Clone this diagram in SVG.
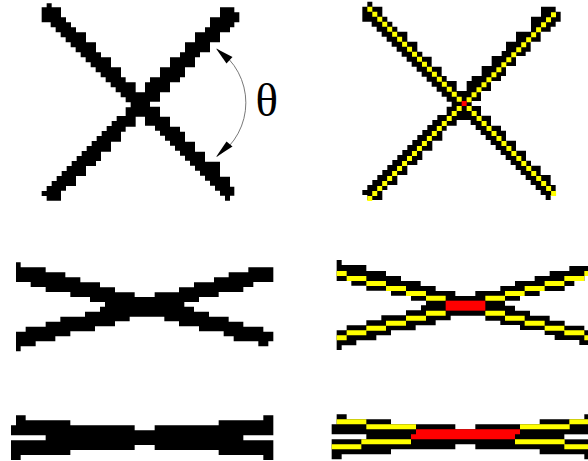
<svg xmlns="http://www.w3.org/2000/svg" width="588" height="461" viewBox="0 0 588 461">
<style>
.k{fill:#000}.y{fill:#ff0}.r{fill:#f00}
.arc{fill:none;stroke:#555;stroke-width:.8}
.t{font-family:"Liberation Serif",serif;font-size:47px;fill:#000}
</style>
<rect width="588" height="461" fill="#fff"/>
<g id="cross-90" transform="scale(.33333)">
<path class="k" d="M140 10H155V22H183V52H198V67H213V82H228V97H258V127H288V157H303V172H333V202H363V232H377V247H407V277H435V247H450V232H480V202H510V172H540V157H555V127H585V97H615V82H630V52H660V22H703V37H718V67H703V82H690V97H660V127H630V157H600V172H585V202H555V232H540V247H510V277H480V305H450V320H480V350H510V380H540V395H555V425H585V455H615V485H660V530H690V560H703V587H690V602H675V587H660V572h-15v-15h-15v-15h-15v-15h-15v-15h-15v-15h-15v-15h-15v-15h-15v-15h-15v-15h-15v-15h-15v-15h-15v-15h-15v-15H435V350H407V380H377V395H363V425H333V455H303V483H288V498H258V528H228V558H198V572H183V602H140V588H125V573H140V558h15v-15h15v-15h15v-15h15v-15h15v-15h15v-15h15v-15h15v-15h15v-15h15v-15h15v-15h15v-15h15v-15h15v-15H377V322H392V307H377V292h-15v-15h-15v-15h-15v-15h-15v-15h-15v-15h-15v-15h-15v-15h-15v-15h-15v-15h-15v-15h-15v-15h-15v-15h-15v-15h-15v-15h-15v-15H125V22H140Z"/>
</g>
<g id="angle">
<path class="arc" d="M217 49A64.500 64.500 0 0 1 217 156.500"/>
<polygon class="k" points="216,48.500 232.500,57 226.500,63.500"/>
<polygon class="k" points="216,157 232.500,146.500 226.500,141.500"/>
<text class="t" x="255.500" y="116">θ</text>
</g>
<g id="cross-90-skeleton" transform="translate(340 0) scale(.33333)">
<path class="k" d="M82 5H97V20H127V50H142V65H157V80H172V95H202V125H232V155H247V170H275V200H305V228H320V243H350V273H380V243H395V228H425V198H455V168H485V153H498V125H528V95H573V50H603V20H647V35H662V65H647V80H632V95H602V125H572V155H557V168H528V198H498V228H483V243H453V273H423V303H395V318H423V347H453V377H483V392H498V422H528V452H558V482H573V497H602V525H632V555H647V585H632V600H617V585H602V570h-15v-15h-15v-15h-15v-15h-15v-15h-15v-15h-15v-15h-15v-15h-15v-15h-15v-15h-15v-15h-15v-15h-15v-15h-15v-15h-15v-15H350V377H320V392H307V422H277V452H247V480H232V495H202V525H172V555H142V570H127V600H82V585H67V570H82V555h15v-15h15v-15h15v-15h15v-15h15v-15h15v-15h15v-15h15v-15h15v-15h15v-15h15v-15h15v-15h15v-15h15v-15H320V320H335V305H320V290h-15v-15h-15v-15h-15v-15h-15v-15h-15v-15h-15v-15h-15v-15h-15v-15h-15v-15h-15v-15h-15v-15h-15v-15h-15v-15h-15v-15h-15v-15H67V20H82Z"/>
<path class="y" d="M82 20h15v15h-15zm14.900 15h15v15h-15zm14.900 15h15v15h-15zm14.900 15h15v15h-15zm14.900 15h15v15h-15zm14.900 15h15v15h-15zm14.900 15h15v15h-15zm14.900 15h15v15h-15zm14.900 15h15v15h-15zm14.900 15h15v15h-15zm14.900 15h15v15h-15zm14.900 15h15v15h-15zm14.900 15h15v15h-15zm14.900 15h15v15h-15zm14.900 15h15v15h-15zm14.900 15h15v15h-15zm14.900 15h15v15h-15zm14.900 15h15v15h-15zm14.900 15h15v15h-15z"/>
<path class="y" d="M380 318h15v15h-15zm14.900 15h15v15h-15zm14.900 15h15v15h-15zm14.900 15h15v15h-15zm14.900 15h15v15h-15zm14.900 15h15v15h-15zm14.900 15h15v15h-15zm14.900 15h15v15h-15zm14.900 15h15v15h-15zm14.900 15h15v15h-15zm14.900 15h15v15h-15zm14.900 15h15v15h-15zm14.900 15h15v15h-15zm14.900 15h15v15h-15zm14.900 15h15v15h-15zm14.900 15h15v15h-15zm14.900 15h15v15h-15zm14.900 15h15v15h-15z"/>
<path class="y" d="M633 37h15v15h-15zm-14.900 15h15v15h-15zm-14.900 15h15v15h-15zm-14.900 15h15v15h-15zm-14.900 15h15v15h-15zm-14.900 15h15v15h-15zm-14.900 15h15v15h-15zm-14.900 15h15v15h-15zm-14.900 15h15v15h-15zm-14.900 15h15v15h-15zm-14.900 15h15v15h-15zm-14.900 15h15v15h-15zm-14.900 15h15v15h-15zm-14.900 15h15v15h-15zm-14.900 15h15v15h-15zm-14.900 15h15v15h-15zm-14.900 15h15v15h-15zm-14.900 15h15v15h-15z"/>
<path class="y" d="M350 318h15v15h-15zm-14.900 15h15v15h-15zm-14.900 15h15v15h-15zm-14.900 15h15v15h-15zm-14.900 15h15v15h-15zm-14.900 15h15v15h-15zm-14.900 15h15v15h-15zm-14.900 15h15v15h-15zm-14.900 15h15v15h-15zm-14.900 15h15v15h-15zm-14.900 15h15v15h-15zm-14.900 15h15v15h-15zm-14.900 15h15v15h-15zm-14.900 15h15v15h-15zm-14.900 15h15v15h-15zm-14.900 15h15v15h-15zm-14.900 15h15v15h-15zm-14.900 15h15v15h-15zm-14.900 15h15v15h-15z"/>
<rect class="r" x="365" y="303" width="15" height="15"/>
</g>
<g id="cross-shallow" transform="translate(0 250) scale(.33333)">
<path class="k" d="M48 37H62V52H137V67H196V82H241V97H300V112H345V127H404V141H464V127H537V112H582V97H642V82H686V67H745V52H820V96H760V111H730V126H656V141H597V156H553V170H582V185H627V200H686V215H730V230H790V245H820V274H805V289H775V274H701V259H671V244H597V229H537V214H493V200H389V214H345V229H285V244H211V259H166V274H107V289H62V304H48V245H77V230H137V215H181V200H255V185H300V170H315V156H270V141H211V126H137V111H92V96H48Z"/>
</g>
<g id="cross-shallow-skeleton" transform="translate(320 250) scale(.33333)">
<path class="k" d="M50 30H65V45H139V63H198V78H243V93H302V108H347V123H406V138H466V123H541V108H585V93H644V78H689V63H748V48H804V78H793V93H763V108H734V123H659V138H600V152H555V167H585V182H630V197H689V212H734V227H793V241H804V285H778V270H704V255H674V240H600V225H541V212H496V197H392V211H347V226H287V241H213V256H169V271H109V286H65V300H50V241H80V226H139V211H184V196H258V181H303V166H318V152H273V137H213V122H139V107H94V93H50Z"/>
<path class="y" d="M50 63h30v15h-30zM80 78h59v15h-59zM139 93h59v15h-59zM198 108h60v15h-60zM258 123h60v15h-60zM318 137h59v15h-59zM496 137h59v15h-59zM555 123h59v15h-59zM614 108h60v15h-60zM674 93h59v15h-59zM733 78h60v15h-60zM793 63h11v15h-11zM318 182h59v15h-59zM258 197h60v15h-60zM198 212h60v15h-60zM139 227h59v15h-59zM80 241h59v15h-59zM50 256h30v15h-30zM496 182h59v15h-59zM555 197h59v15h-59zM614 212h60v15h-60zM674 227h59v15h-59zM733 241h60v15h-60zM793 256h11v15h-11z"/>
<rect class="r" x="377" y="152" width="119" height="30"/>
</g>
<g id="cross-flat" transform="translate(0 250) scale(.33333)">
<path class="k" d="M48 496H77V511H211V526H404V541H464V526H656V511H790V496H820V556H730V571H820V630H790V615H656V600H464V585H404V600H211V615H62V630H33V571H137V556H33V526H48Z"/>
</g>
<g id="cross-flat-skeleton" transform="translate(320 250) scale(.33333)">
<path class="k" d="M50 493H80V508H213V523H406V538H466V523H659V508H793V493H804V628H793V613H659V598H466V583H406V598H213V613H65V628H35V568H139V553H35V523H50Z"/>
<rect x="733" y="553" width="71" height="15" fill="#fff"/>
<path class="y" d="M50 508h89v15h-89zM139 523h149v15h-149zM600 523h149v15h-149zM748 508h56v15h-56zM124 568h149v15h-149zM35 583h89v15h-89zM585 568h149v15h-149zM733 583h71v15h-71z"/>
<path class="r" d="M288 538H600V553H585V568H273V553H288Z"/>
</g>
</svg>
